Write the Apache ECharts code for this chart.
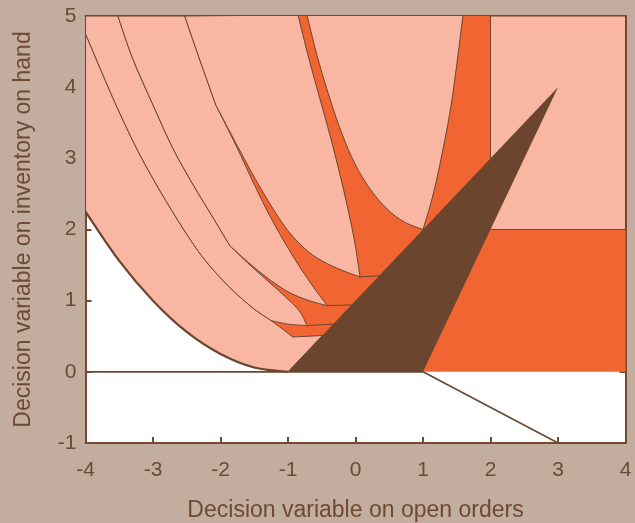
<!DOCTYPE html>
<html>
<head>
<meta charset="utf-8">
<script src="https://cdn.jsdelivr.net/npm/echarts@6/dist/echarts.min.js"></script>
<style>
  html, body { margin: 0; padding: 0; background: #c2ad9f; }
  #chart { width: 635px; height: 523px; }
</style>
</head>
<body>
<div id="chart"></div>
<script>
// Axis ticks
const xTicks = [-4, -3, -2, -1, 0, 1, 2, 3, 4];
const yTicks = [-1, 0, 1, 2, 3, 4, 5];

// Lower boundary of the feasible set (open orders, inventory on hand)
const lowerBoundary = [[-4, 2.25], [-3.5, 1.56], [-3, 1.0], [-2.5, 0.56], [-2, 0.25], [-1.5, 0.06], [-1, 0]];

// Region boundaries, each traced top to bottom
const curve1 = [[-4, 4.75], [-3.5, 3.65], [-3.04, 2.78], [-2.4, 1.79], [-1.95, 1.27], [-1.55, 0.92], [-1.25, 0.72]];
const curve1Lower = [[-1.25, 0.72], [-1.08, 0.6], [-0.93, 0.49]];
const curve1Upper = [[-1.25, 0.72], [-1.0, 0.67], [-0.72, 0.65]];
const curve2 = [[-3.52, 5], [-3.3, 4.4], [-3.0, 3.75], [-2.7, 3.13], [-2.4, 2.62], [-2.1, 2.15], [-1.86, 1.77]];
const curve2Upper = [[-1.86, 1.77], [-1.563, 1.517], [-1.267, 1.292], [-0.97, 1.11], [-0.674, 0.997], [-0.42, 0.93]];
const curve2Lower = [[-1.86, 1.77], [-1.563, 1.5], [-1.267, 1.25], [-1.0, 1.02], [-0.82, 0.84], [-0.72, 0.65]];
const curve3 = [[-2.53, 5], [-2.32, 4.42], [-2.07, 3.75]];
const curve3Upper = [[-2.07, 3.75], [-1.726, 3.132], [-1.4, 2.57], [-1.044, 2.037], [-0.748, 1.728], [-0.496, 1.559], [-0.215, 1.433], [0.067, 1.334]];
const curve3Lower = [[-2.07, 3.75], [-1.77, 3.18], [-1.504, 2.64], [-1.252, 2.16], [-1.0, 1.74], [-0.807, 1.447], [-0.615, 1.18], [-0.42, 0.93]];
const bandLeft = [[-0.852, 5.014], [-0.689, 4.396], [-0.526, 3.834], [-0.363, 3.272], [-0.215, 2.711], [-0.096, 2.219], [-0.007, 1.798], [0.067, 1.334]];
const bandRight = [[-0.719, 5.014], [-0.556, 4.396], [-0.378, 3.834], [-0.2, 3.343], [-0.007, 2.921], [0.215, 2.57], [0.467, 2.289], [0.719, 2.107], [1.0, 2.0]];
const vRight = [[1.0, 2.0], [1.133, 2.43], [1.267, 2.99], [1.43, 3.83], [1.593, 5.014]];

// Short separators from the region tips to the wedge edge
const tipLines = [
  [[-0.72, 0.65], [-0.33, 0.67]],
  [[-0.42, 0.93], [-0.06, 0.94]],
  [[0.067, 1.334], [0.35, 1.35]]
];

// Solid regions
const wedge = [[-1, 0], [1, 0], [3, 4]];
const upperRight = [[2, 2], [4, 2], [4, 5], [2, 5]];
const zeroLine = [[-4, 0], [1, 0]];
const tail = [[1, 0], [3, -1]];

const PINK = '#f9b7a3';
const ORANGE = '#f06532';
const BROWN = '#6b452e';
const FRAME = '#74492f';
const TEXT = '#6e4a32';
const FONT = 'Liberation Sans, Arial, Helvetica, sans-serif';

function rev(a) { return a.slice().reverse(); }

// A region is a list of pieces; 's' pieces are drawn as smooth curves, 'l' as straight segments
const regions = [
  { fill: ORANGE, stroke: null, pieces: [['s', lowerBoundary], ['l', [[4, 0], [4, 5], [-4, 5]]]] },
  { fill: PINK, stroke: BROWN, pieces: [['s', lowerBoundary], ['l', [[-0.49, 0.51], [-0.93, 0.49]]], ['s', rev(curve1Lower)], ['s', rev(curve1)]] },
  { fill: PINK, stroke: BROWN, pieces: [['s', curve1], ['s', curve1Upper], ['s', rev(curve2Lower)], ['s', rev(curve2)], ['l', [[-4, 5]]]] },
  { fill: PINK, stroke: BROWN, pieces: [['s', curve2], ['s', curve2Upper], ['s', rev(curve3Lower)], ['s', rev(curve3)]] },
  { fill: PINK, stroke: BROWN, pieces: [['s', curve3], ['s', curve3Upper], ['s', rev(bandLeft)]] },
  { fill: PINK, stroke: BROWN, pieces: [['s', bandRight], ['s', vRight]] },
  { fill: PINK, stroke: BROWN, pieces: [['l', upperRight]] },
  { fill: BROWN, stroke: null, pieces: [['l', wedge]] }
];
const strokes = [
  { pts: zeroLine, lw: 1.6 },
  { pts: tail, lw: 1.6 },
  { pts: lowerBoundary, lw: 2.2, smooth: true }
].concat(tipLines.map(t => ({ pts: t, lw: 1 })));

// Catmull-Rom through pixel points, written as cubic Bezier commands
function smoothCmds(p) {
  let d = '';
  for (let i = 0; i < p.length - 1; i++) {
    const p0 = p[i - 1] || p[i], p1 = p[i], p2 = p[i + 1], p3 = p[i + 2] || p[i + 1];
    const c1 = [p1[0] + (p2[0] - p0[0]) / 6, p1[1] + (p2[1] - p0[1]) / 6];
    const c2 = [p2[0] - (p3[0] - p1[0]) / 6, p2[1] - (p3[1] - p1[1]) / 6];
    d += ' C' + c1[0].toFixed(2) + ' ' + c1[1].toFixed(2) + ' ' + c2[0].toFixed(2) + ' ' + c2[1].toFixed(2) + ' ' + p2[0].toFixed(2) + ' ' + p2[1].toFixed(2);
  }
  return d;
}
function buildPath(pieces, api, close) {
  let d = '';
  pieces.forEach(function (piece, k) {
    const px = piece[1].map(pt => api.coord(pt));
    d += (k === 0 ? 'M' : ' L') + px[0][0].toFixed(2) + ' ' + px[0][1].toFixed(2);
    if (piece[0] === 's') d += smoothCmds(px);
    else px.slice(1).forEach(q => { d += ' L' + q[0].toFixed(2) + ' ' + q[1].toFixed(2); });
  });
  return close ? d + ' Z' : d;
}

function regionSeries(r, i) {
  return {
    type: 'custom', coordinateSystem: 'cartesian2d', z: 2 + i, silent: true, clip: true,
    data: [0],
    renderItem: function (params, api) {
      return {
        type: 'path',
        shape: { pathData: buildPath(r.pieces, api, true) },
        style: { fill: r.fill, stroke: r.stroke || 'none', lineWidth: r.stroke ? 1 : 0, lineJoin: 'round' }
      };
    }
  };
}
function strokeSeries(s, i) {
  return {
    type: 'custom', coordinateSystem: 'cartesian2d', z: 20 + i, silent: true, clip: true,
    data: [0],
    renderItem: function (params, api) {
      return {
        type: 'path',
        shape: { pathData: buildPath([[s.smooth ? 's' : 'l', s.pts]], api, false) },
        style: { fill: 'none', stroke: BROWN, lineWidth: s.lw }
      };
    }
  };
}

const axisCommon = {
  type: 'value',
  axisLine: { show: true, onZero: false, lineStyle: { color: FRAME, width: 2 } },
  axisTick: { show: true, inside: true, length: 6, lineStyle: { color: FRAME, width: 2 } },
  splitLine: { show: false }
};

const chart = echarts.init(document.getElementById('chart'), null, { renderer: 'canvas' });
chart.setOption({
  backgroundColor: '#c2ad9f',
  animation: false,
  grid: {
    left: 85.5, right: 9.5, top: 16, bottom: 80,
    outerBoundsMode: 'none', containLabel: false,
    show: true, backgroundColor: '#ffffff', borderWidth: 0
  },
  xAxis: [
    Object.assign({}, axisCommon, {
      min: xTicks[0], max: xTicks[xTicks.length - 1], interval: 1, position: 'bottom',
      axisLabel: { color: TEXT, fontSize: 21, margin: 17, fontFamily: FONT },
      name: 'Decision variable on open orders', nameLocation: 'middle', nameGap: 56,
      nameTextStyle: { color: TEXT, fontSize: 23, fontFamily: FONT }
    }),
    Object.assign({}, axisCommon, {
      min: xTicks[0], max: xTicks[xTicks.length - 1], interval: 1, position: 'top',
      axisLabel: { show: false }
    })
  ],
  yAxis: [
    Object.assign({}, axisCommon, {
      min: yTicks[0], max: yTicks[yTicks.length - 1], interval: 1, position: 'left',
      axisLabel: { color: TEXT, fontSize: 21, margin: 9, fontFamily: FONT },
      name: 'Decision variable on inventory on hand', nameLocation: 'middle', nameGap: 50,
      nameTextStyle: { color: TEXT, fontSize: 23, fontFamily: FONT }
    }),
    Object.assign({}, axisCommon, {
      min: yTicks[0], max: yTicks[yTicks.length - 1], interval: 1, position: 'right',
      axisLabel: { show: false }
    })
  ],
  series: regions.map(regionSeries).concat(strokes.map(strokeSeries))
});
</script>
</body>
</html>
